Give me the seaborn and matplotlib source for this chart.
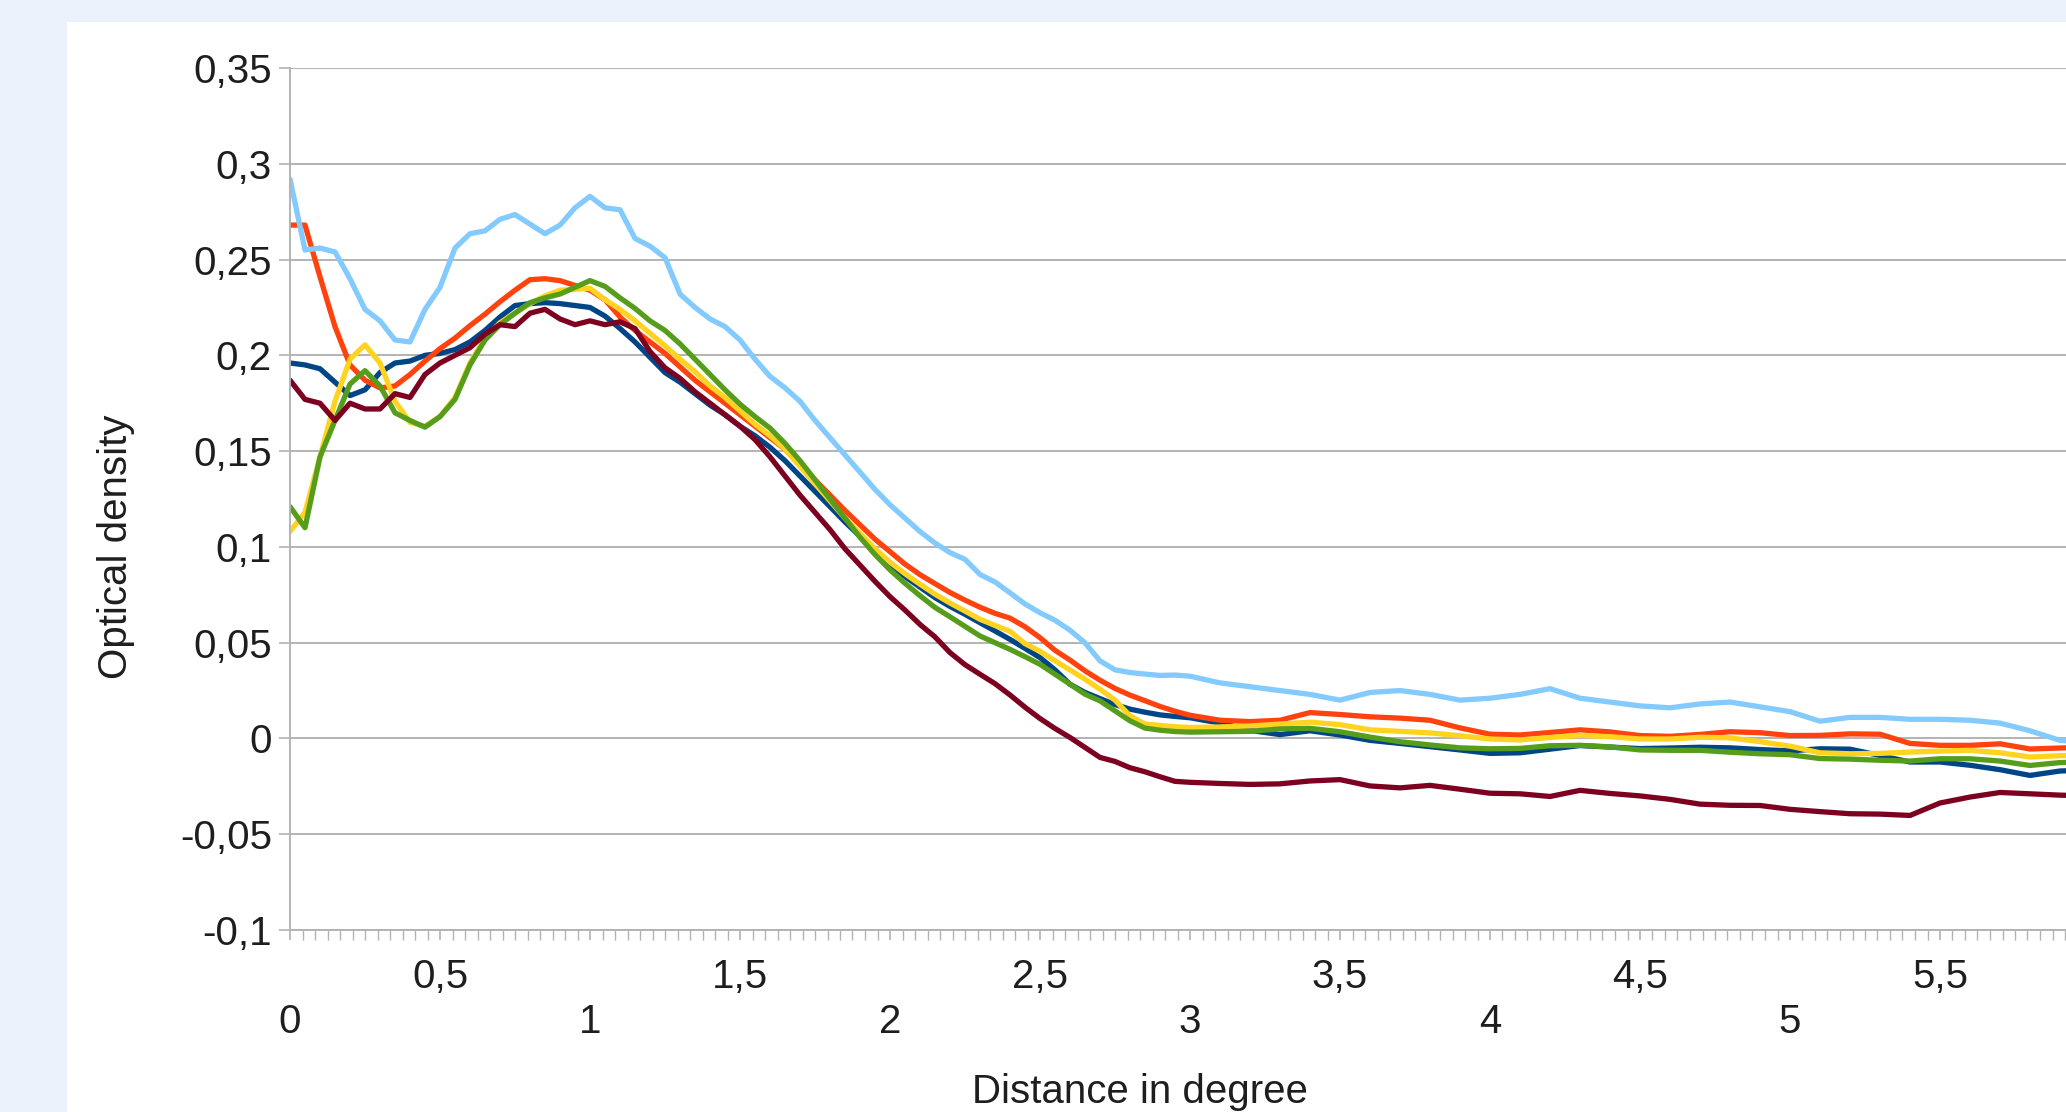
import numpy as np
import pandas as pd
import matplotlib
matplotlib.use("Agg")
import matplotlib.pyplot as plt
from matplotlib.patches import Rectangle
from matplotlib.ticker import MultipleLocator
import seaborn as sns

# distance grid (degrees): fine steps up to 3, then 0.1 steps
distance = np.round(np.concatenate([np.arange(0, 3.001, 0.05), np.arange(3.1, 6.001, 0.1)]), 2)

# optical density curves
serie_1 = [0.196, 0.195, 0.193, 0.186, 0.179, 0.182, 0.191, 0.196, 0.197, 0.200,
           0.201, 0.203, 0.207, 0.213, 0.220, 0.226, 0.227, 0.2275, 0.227, 0.226,
           0.225, 0.2205, 0.214, 0.207, 0.199, 0.191, 0.186, 0.180, 0.174, 0.169,
           0.163, 0.158, 0.152, 0.145, 0.137, 0.129, 0.121, 0.113, 0.1055, 0.098,
           0.091, 0.0845, 0.079, 0.0735, 0.0689, 0.0648, 0.0604, 0.0561, 0.0517, 0.047,
           0.0422, 0.0358, 0.0283, 0.024, 0.0208, 0.0177, 0.0153, 0.0137, 0.0123, 0.0115,
           0.0108,
           0.008, 0.0042, 0.002, 0.004, 0.0018, -0.001, -0.0026, -0.0043, -0.006, -0.0078,
           -0.0075, -0.0056, -0.0037, -0.0045, -0.0053, -0.005, -0.0046, -0.0049, -0.0058, -0.0065,
           -0.0054, -0.0056, -0.0089, -0.0123, -0.0123, -0.014, -0.0163, -0.0193, -0.017, -0.0165]

serie_2 = [0.268, 0.268, 0.241, 0.215, 0.195, 0.187, 0.183, 0.184, 0.190, 0.197,
           0.2035, 0.209, 0.2155, 0.2215, 0.228, 0.234, 0.2395, 0.240, 0.239, 0.2365,
           0.234, 0.229, 0.220, 0.213, 0.207, 0.201, 0.194, 0.187, 0.181, 0.175,
           0.169, 0.163, 0.157, 0.151, 0.143, 0.135, 0.127, 0.119, 0.1115, 0.104,
           0.0975, 0.091, 0.0855, 0.0808, 0.0762, 0.0722, 0.0685, 0.0653, 0.0628, 0.0583,
           0.0526, 0.046, 0.0409, 0.0353, 0.0304, 0.0261, 0.0226, 0.0197, 0.0167, 0.0142,
           0.0121,
           0.0095, 0.0088, 0.0095, 0.0135, 0.0125, 0.0113, 0.0106, 0.0095, 0.0055, 0.0022,
           0.0018, 0.0031, 0.0045, 0.0034, 0.0015, 0.0011, 0.0021, 0.0035, 0.003, 0.0015,
           0.0016, 0.0024, 0.0022, -0.0026, -0.0036, -0.0036, -0.0028, -0.0055, -0.005, -0.0045]

serie_3 = [0.108, 0.118, 0.147, 0.176, 0.198, 0.2055, 0.196, 0.176, 0.165, 0.163,
           0.168, 0.178, 0.196, 0.209, 0.217, 0.222, 0.227, 0.231, 0.234, 0.2345,
           0.235, 0.229, 0.224, 0.218, 0.2115, 0.205, 0.198, 0.1915, 0.184, 0.178,
           0.171, 0.164, 0.158, 0.151, 0.142, 0.133, 0.124, 0.115, 0.107, 0.099,
           0.092, 0.086, 0.0805, 0.0753, 0.0707, 0.0665, 0.0622, 0.059, 0.0559, 0.0495,
           0.0455, 0.0405, 0.0358, 0.0309, 0.0257, 0.020, 0.0118, 0.0075, 0.0068, 0.0061,
           0.0057,
           0.006, 0.0065, 0.0075, 0.0085, 0.0072, 0.0045, 0.0037, 0.0029, 0.0014, -0.0003,
           -0.0008, 0.0005, 0.0016, 0.0009, -0.0003, -0.0003, 0.0006, 0.0003, -0.0017, -0.004,
           -0.0075, -0.008, -0.0078, -0.0071, -0.0066, -0.0062, -0.0075, -0.0097, -0.009, -0.0088]

serie_4 = [0.121, 0.110, 0.147, 0.166, 0.185, 0.192, 0.184, 0.170, 0.166, 0.1625,
           0.168, 0.177, 0.195, 0.208, 0.216, 0.222, 0.2275, 0.230, 0.232, 0.2355,
           0.239, 0.236, 0.230, 0.2245, 0.218, 0.213, 0.206, 0.198, 0.190, 0.182,
           0.1745, 0.168, 0.162, 0.154, 0.145, 0.135, 0.125, 0.115, 0.105, 0.096,
           0.088, 0.081, 0.0745, 0.0684, 0.0635, 0.0585, 0.0535, 0.050, 0.0465, 0.0427,
           0.0387, 0.0335, 0.0283, 0.0231, 0.0196, 0.0144, 0.0092, 0.0054, 0.0043, 0.0036,
           0.0033,
           0.0035, 0.0037, 0.005, 0.0053, 0.0035, 0.0007, -0.0017, -0.0034, -0.0049, -0.0054,
           -0.0052, -0.0038, -0.0036, -0.0044, -0.006, -0.0062, -0.0062, -0.0072, -0.008, -0.0085,
           -0.0105, -0.0108, -0.0114, -0.0118, -0.0106, -0.0106, -0.0118, -0.0141, -0.0126, -0.0123]

serie_5 = [0.187, 0.177, 0.175, 0.166, 0.175, 0.172, 0.172, 0.180, 0.178, 0.190,
           0.196, 0.200, 0.204, 0.211, 0.216, 0.215, 0.222, 0.224, 0.219, 0.216,
           0.218, 0.216, 0.2175, 0.214, 0.202, 0.1935, 0.188, 0.181, 0.175, 0.169,
           0.163, 0.156, 0.147, 0.137, 0.127, 0.118, 0.109, 0.099, 0.0905, 0.082,
           0.074, 0.067, 0.0595, 0.053, 0.0448, 0.0385, 0.0335, 0.0286, 0.0227, 0.0163,
           0.0104, 0.0052, 0.0005, -0.0047, -0.0099, -0.012, -0.0153, -0.0174, -0.020, -0.0224,
           -0.0229,
           -0.0235, -0.024, -0.0237, -0.0222, -0.0215, -0.0248, -0.0258, -0.0245, -0.0265, -0.0286,
           -0.0289, -0.0303, -0.0271, -0.0287, -0.030, -0.0318, -0.0343, -0.0349, -0.035, -0.037,
           -0.0382, -0.0393, -0.0395, -0.0402, -0.0337, -0.0306, -0.0282, -0.0289, -0.0296, -0.030]

serie_6 = [0.292, 0.255, 0.256, 0.254, 0.240, 0.224, 0.218, 0.208, 0.207, 0.224,
           0.2355, 0.256, 0.2635, 0.265, 0.271, 0.2735, 0.2685, 0.2635, 0.268, 0.277,
           0.283, 0.277, 0.276, 0.261, 0.257, 0.251, 0.232, 0.225, 0.219, 0.215,
           0.208, 0.198, 0.189, 0.183, 0.176, 0.166, 0.157, 0.148, 0.139, 0.130,
           0.122, 0.115, 0.108, 0.102, 0.097, 0.0935, 0.0856, 0.0817, 0.076, 0.0702,
           0.0656, 0.0617, 0.0565, 0.0499, 0.0405, 0.0358, 0.0344, 0.0336, 0.0329, 0.0331,
           0.0325,
           0.029, 0.027, 0.025, 0.023, 0.020, 0.024, 0.025, 0.023, 0.020, 0.021,
           0.023, 0.026, 0.021, 0.019, 0.017, 0.016, 0.018, 0.019, 0.0165, 0.014,
           0.009, 0.011, 0.011, 0.010, 0.010, 0.0095, 0.008, 0.004, -0.001, -0.002]

series_names = ["Serie 1", "Serie 2", "Serie 3", "Serie 4", "Serie 5", "Serie 6"]
series_colors = ["#004586", "#ff420e", "#ffd320", "#579d1c", "#7e0021", "#83caff"]

y_ticks = [-0.1, -0.05, 0, 0.05, 0.1, 0.15, 0.2, 0.25, 0.3, 0.35]
y_labels = ["-0,1", "-0,05", "0", "0,05", "0,1", "0,15", "0,2", "0,25", "0,3", "0,35"]
x_ticks = [0, 0.5, 1, 1.5, 2, 2.5, 3, 3.5, 4, 4.5, 5, 5.5]
x_labels = ["0", "0,5", "1", "1,5", "2", "2,5", "3", "3,5", "4", "4,5", "5", "5,5"]

# long table for seaborn
frames = []
for name, vals in zip(series_names, [serie_1, serie_2, serie_3, serie_4, serie_5, serie_6]):
    frames.append(pd.DataFrame({"Distance": distance, "OD": vals, "Serie": name}))
df = pd.concat(frames, ignore_index=True)

sns.set_theme(style="white")
plt.rcParams["font.family"] = ["Liberation Sans", "DejaVu Sans"]
text_col = "#1e1e1e"
line_col = "#b3b3b3"

W, H = 2066, 1112
fig = plt.figure(figsize=(W / 100, H / 100), dpi=100)
fig.patch.set_facecolor("#ecf2fc")
# white chart panel behind the axes
fig.patches.append(Rectangle((67 / W, 0), 1, 1 - 22 / H, transform=fig.transFigure,
                             facecolor="white", edgecolor="none", zorder=-10))

left, top, bottom = 290, 68, 930
ax = fig.add_axes([left / W, 1 - bottom / H, 1 - left / W, (bottom - top) / H])
ax.set_zorder(1)
ax.set_facecolor("white")

sns.lineplot(data=df, x="Distance", y="OD", hue="Serie", hue_order=series_names,
             palette=series_colors, linewidth=3.8, legend=False, ax=ax)

ax.set_xlim(0, (W - left) / 300)
ax.set_ylim(-0.1, 0.35)
ax.set_yticks(y_ticks)
ax.set_yticklabels(y_labels)
ax.set_xticks(x_ticks)
# staggered labels: whole degrees on the lower row
ax.set_xticklabels([lab if "," in lab else "\n" + lab for lab in x_labels])
ax.xaxis.set_minor_locator(MultipleLocator(1 / 24))

ax.grid(axis="y", color=line_col, linewidth=1.4)
ax.grid(axis="x", visible=False)
ax.set_axisbelow(True)
for s in ["top", "right"]:
    ax.spines[s].set_visible(False)
for s in ["left", "bottom"]:
    ax.spines[s].set_color(line_col)
    ax.spines[s].set_linewidth(1.4)

ax.tick_params(axis="y", which="major", left=True, length=8, width=1.2, color=line_col,
               pad=5, labelsize=29, labelcolor=text_col)
ax.tick_params(axis="x", which="both", bottom=True, length=7, width=1.0, color=line_col,
               pad=13, labelsize=29, labelcolor=text_col)
ax.tick_params(axis="x", which="major", width=1.2)
for lab in ax.get_xticklabels():
    lab.set_linespacing(1.24)

ax.set_xlabel("")
ax.set_ylabel("")
fig.text(1140 / W, 1 - 1092 / H, "Distance in degree", ha="center", va="center",
         fontsize=29, color=text_col)
fig.text(116 / W, 1 - 547 / H, "Optical density", ha="center", va="center",
         rotation=90, fontsize=29, color=text_col)

fig.savefig("out.png", dpi=100)
